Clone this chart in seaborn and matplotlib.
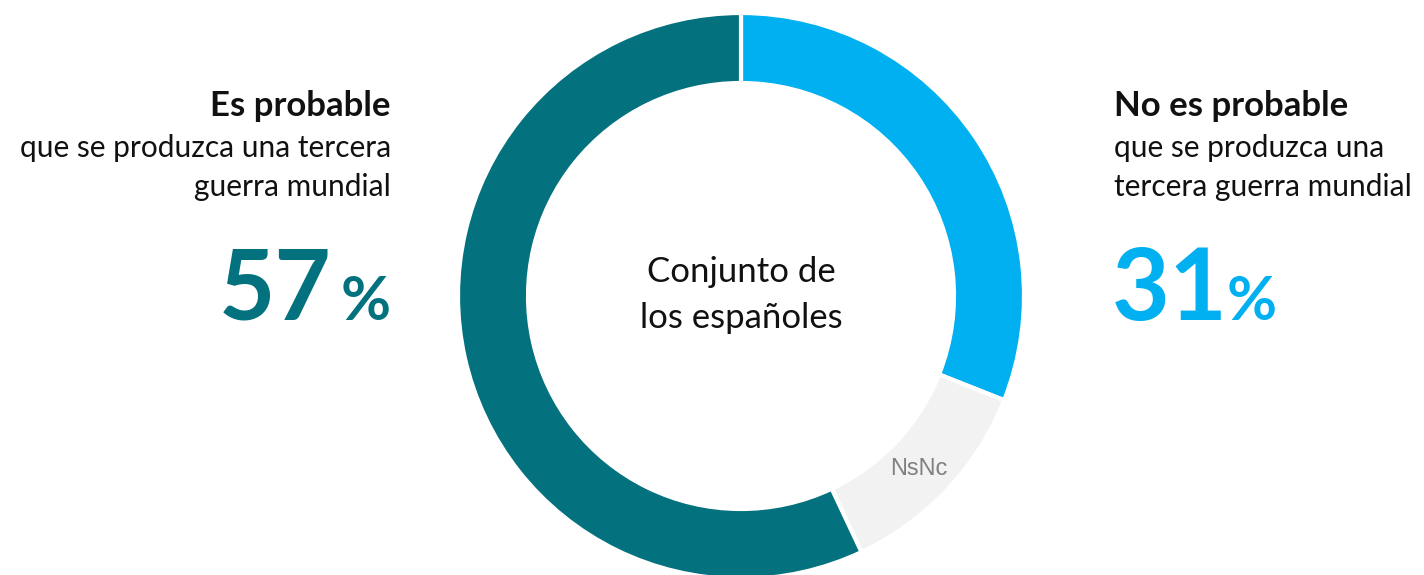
import matplotlib
matplotlib.use('Agg')
import matplotlib.pyplot as plt
import seaborn as sns

sns.set_theme(style="white")
plt.rcParams['font.family'] = ['Lato', 'DejaVu Sans']

# data
labels = ["No es probable", "NsNc", "Es probable"]
values = [31, 12, 57]
colors = ["#00B0F0", "#F2F2F2", "#03717E"]

W, H = 1424, 575
fig = plt.figure(figsize=(W / 100, H / 100), dpi=100)
ax = fig.add_axes([0, 0, 1, 1])
ax.set_xlim(0, W)
ax.set_ylim(0, H)
ax.set_aspect('equal')
ax.axis('off')

def py(y):
    # pixel row from the top -> data y
    return H - y

cx, cy, r_out = 741, py(296), 283
ax.pie(values, colors=colors, startangle=90, counterclock=False,
       center=(cx, cy), radius=r_out,
       wedgeprops=dict(width=70, edgecolor='white', linewidth=3))
ax.set_xlim(0, W)
ax.set_ylim(0, H)

# center label
ax.text(cx, py(272), "Conjunto de", ha='center', va='center', fontsize=25, color='#111111')
ax.text(cx, py(318), "los españoles", ha='center', va='center', fontsize=25, color='#111111')
ax.text(919, py(469), labels[1], ha='center', va='center', fontsize=17,
        color='#808080', family=['Liberation Sans', 'DejaVu Sans'])

# left block
ax.text(391, py(116), labels[2], ha='right', va='baseline', fontsize=25, fontweight='bold', color='#111111')
ax.text(391, py(157), "que se produzca una tercera", ha='right', va='baseline', fontsize=21.5, color='#111111')
ax.text(391, py(196), "guerra mundial", ha='right', va='baseline', fontsize=21.5, color='#111111')
ax.text(331, py(320), f"{values[2]}", ha='right', va='baseline', fontsize=70, fontweight='bold', color=colors[2])
ax.text(391, py(320), "%", ha='right', va='baseline', fontsize=44, fontweight='bold', color=colors[2])

# right block
ax.text(1114, py(116), labels[0], ha='left', va='baseline', fontsize=25, fontweight='bold', color='#111111')
ax.text(1114, py(157), "que se produzca una", ha='left', va='baseline', fontsize=21.5, color='#111111')
ax.text(1114, py(196), "tercera guerra mundial", ha='left', va='baseline', fontsize=21.5, color='#111111')
ax.text(1112, py(320), f"{values[0]}", ha='left', va='baseline', fontsize=72, fontweight='bold', color=colors[0])
ax.text(1227, py(320), "%", ha='left', va='baseline', fontsize=44, fontweight='bold', color=colors[0])

fig.savefig("out.png", dpi=100, facecolor='white')
